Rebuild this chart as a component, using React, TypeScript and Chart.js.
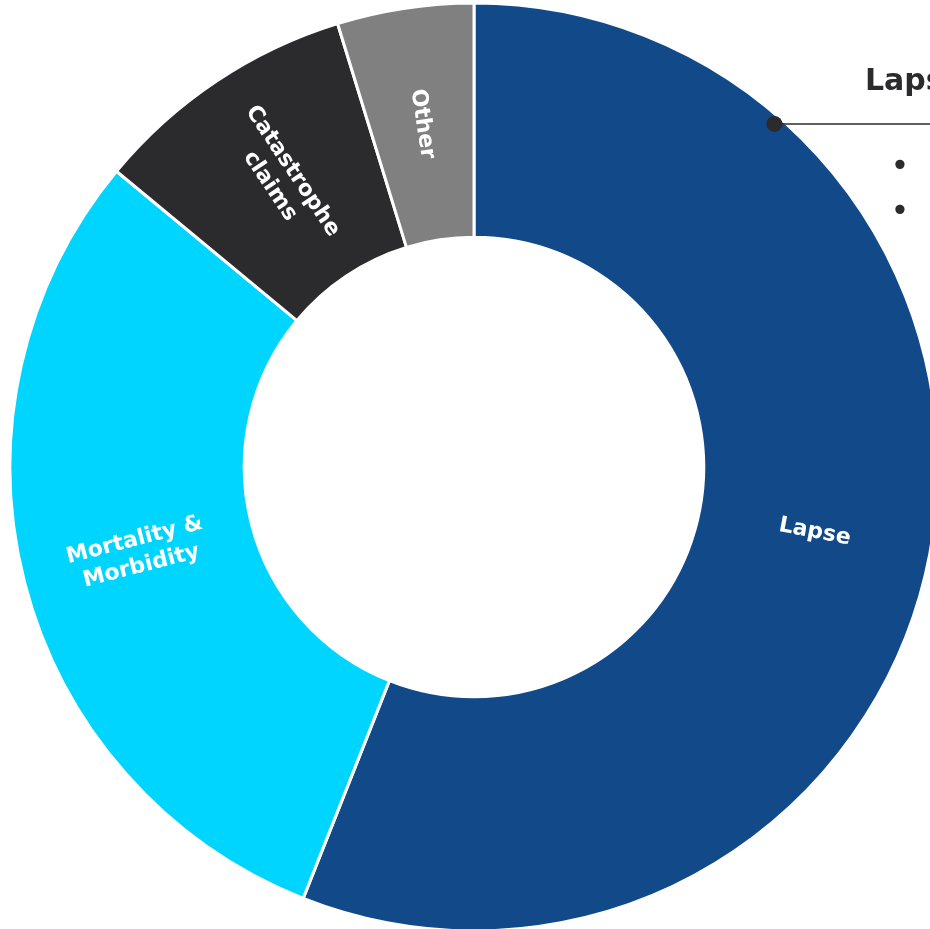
import React, { useEffect, useRef } from "react";
import { Chart, registerables } from "chart.js";

Chart.register(...registerables);

const categories = ["Lapse", "Mortality & Morbidity", "Catastrophe claims", "Other"];
const labelLines = [["Lapse"], ["Mortality &", "Morbidity"], ["Catastrophe", "claims"], ["Other"]];
const values = [56, 30, 9.25, 4.75];
const colors = ["#124A89", "#00D5FF", "#2B2B2D", "#808080"];
const calloutTitle = "Lapse";
const calloutBullets = ["•", "•"];

const FONT = "'DejaVu Sans', sans-serif";

const sliceLabels = {
  id: "sliceLabels",
  afterDatasetsDraw(chart: any) {
    const ctx = chart.ctx;
    const meta = chart.getDatasetMeta(0);
    meta.data.forEach((arc: any, i: number) => {
      const { x, y, startAngle, endAngle, innerRadius, outerRadius } = arc.getProps(
        ["x", "y", "startAngle", "endAngle", "innerRadius", "outerRadius"],
        true
      );
      const mid = (startAngle + endAngle) / 2;
      const r = (innerRadius + outerRadius) / 2;
      const px = x + Math.cos(mid) * r;
      const py = y + Math.sin(mid) * r;
      let rot = mid;
      if (Math.cos(mid) < 0) rot += Math.PI;
      ctx.save();
      ctx.translate(px, py);
      ctx.rotate(rot);
      ctx.fillStyle = "#ffffff";
      ctx.font = `bold 22px ${FONT}`;
      ctx.textAlign = "center";
      ctx.textBaseline = "middle";
      const lines = labelLines[i];
      const lh = 27;
      lines.forEach((l, j) => ctx.fillText(l, 0, (j - (lines.length - 1) / 2) * lh));
      ctx.restore();
    });
  },
};

const callout = {
  id: "callout",
  afterDraw(chart: any) {
    const ctx = chart.ctx;
    const arc = chart.getDatasetMeta(0).data[0];
    const { x, y, outerRadius } = arc.getProps(["x", "y", "outerRadius"], true);
    const ang = -Math.PI / 2 + (41.2 * Math.PI) / 180;
    const dr = outerRadius - 8;
    const dx = x + Math.cos(ang) * dr;
    const dy = y + Math.sin(ang) * dr;
    ctx.save();
    ctx.strokeStyle = "#2B2B2D";
    ctx.lineWidth = 1.5;
    ctx.beginPath();
    ctx.moveTo(dx, dy);
    ctx.lineTo(chart.width, dy);
    ctx.stroke();
    ctx.fillStyle = "#2B2B2D";
    ctx.beginPath();
    ctx.arc(dx, dy, 8, 0, Math.PI * 2);
    ctx.fill();
    ctx.font = `bold 30px ${FONT}`;
    ctx.textAlign = "left";
    ctx.textBaseline = "alphabetic";
    ctx.fillText(calloutTitle, x + 391, y - 377);
    ctx.font = `32px ${FONT}`;
    ctx.textAlign = "center";
    ctx.textBaseline = "middle";
    calloutBullets.forEach((b, i) => {
      ctx.fillText(b, x + 426, y - 299 + i * 45);
    });
    ctx.restore();
  },
};

export default function App() {
  const ref = useRef<HTMLCanvasElement | null>(null);
  useEffect(() => {
    if (!ref.current) return;
    const chart = new Chart(ref.current, {
      type: "doughnut",
      data: {
        labels: categories,
        datasets: [
          {
            data: values,
            backgroundColor: colors,
            borderColor: "#ffffff",
            borderWidth: 3,
            hoverOffset: 0,
          },
        ],
      },
      options: {
        responsive: false,
        animation: false,
        radius: 464,
        cutout: 232,
        layout: { padding: 0 },
        plugins: {
          legend: { display: false },
          tooltip: { enabled: false },
          title: { display: false },
        },
      },
      plugins: [sliceLabels, callout],
    });
    return () => chart.destroy();
  }, []);
  return (
    <div
      style={{
        position: "fixed",
        left: 0,
        top: 0,
        width: 930,
        height: 929,
        overflow: "hidden",
        background: "#ffffff",
      }}
    >
      <canvas
        ref={ref}
        width={940}
        height={940}
        style={{ position: "absolute", left: 4, top: -3, width: 940, height: 940 }}
      />
    </div>
  );
}
